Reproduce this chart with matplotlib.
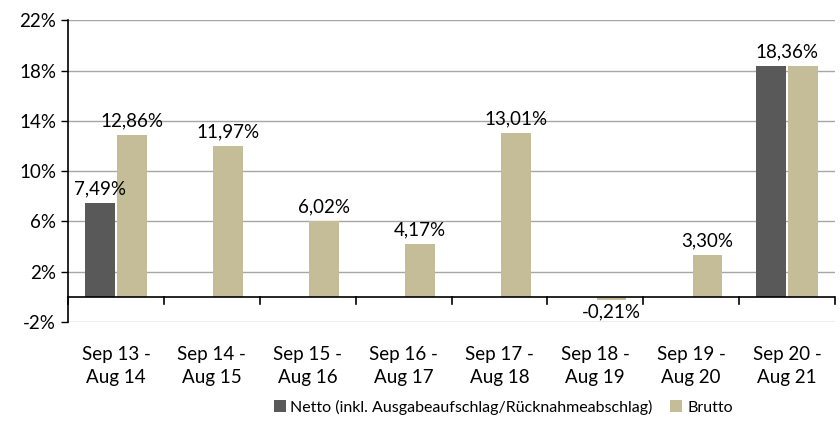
import matplotlib.pyplot as plt
import numpy as np

plt.rcParams['font.family'] = ['Lato', 'DejaVu Sans']

categories = ['Sep 13 -\nAug 14', 'Sep 14 -\nAug 15', 'Sep 15 -\nAug 16', 'Sep 16 -\nAug 17',
              'Sep 17 -\nAug 18', 'Sep 18 -\nAug 19', 'Sep 19 -\nAug 20', 'Sep 20 -\nAug 21']
netto = [7.49, None, None, None, None, None, None, 18.36]
brutto = [12.86, 11.97, 6.02, 4.17, 13.01, -0.21, 3.30, 18.36]
yticks = [-2, 2, 6, 10, 14, 18, 22]

c_netto = '#595959'
c_brutto = '#c4bd97'
fs = 13.5

fig = plt.figure(figsize=(8.4, 4.21), dpi=100)
ax = fig.add_axes([0.081, 0.235, 0.913, 0.717])

x = np.arange(len(categories))
w = 0.31
off = 0.17

nx = [x[i] - off for i in range(len(x)) if netto[i] is not None]
nv = [v for v in netto if v is not None]
ax.bar(nx, nv, w, color=c_netto, zorder=3, label='Netto (inkl. Ausgabeaufschlag/Rücknahmeabschlag)')
ax.bar(x + off, brutto, w, color=c_brutto, zorder=3, label='Brutto')

def fmt(v):
    return ('%.2f' % v).replace('.', ',') + '%'

for i, v in enumerate(brutto):
    if i == len(brutto) - 1:
        ax.text(x[i], v + 0.45, fmt(v), ha='center', va='bottom', fontsize=fs)
    elif v < 0:
        ax.text(x[i] + off, v - 0.3, fmt(v), ha='center', va='top', fontsize=fs)
    else:
        ax.text(x[i] + off, v + 0.45, fmt(v), ha='center', va='bottom', fontsize=fs)
for i, v in enumerate(netto):
    if v is not None and i != len(netto) - 1:
        ax.text(x[i] - off, v + 0.45, fmt(v), ha='center', va='bottom', fontsize=fs)

ax.set_ylim(-2, 22)
ax.set_xlim(-0.5, len(categories) - 0.5)
ax.set_yticks(yticks)
ax.set_yticklabels(['%d%%' % t for t in yticks], fontsize=fs)
ax.yaxis.grid(True, color='#a6a6a6', linewidth=1, zorder=0)
ax.tick_params(axis='y', length=5, width=1, color='black')

for s in ['top', 'right', 'bottom']:
    ax.spines[s].set_visible(False)
ax.spines['left'].set_linewidth(1.2)
ax.axhline(0, color='black', linewidth=1.2, zorder=4)

ax.set_xticks([])
for b in np.arange(-0.5, len(categories)):
    ax.plot([b, b], [0, -0.55], color='black', linewidth=1.2, clip_on=False, zorder=4)
for i, c in enumerate(categories):
    ax.text(x[i], -3.9, c, ha='center', va='top', fontsize=fs, linespacing=1.4)

fig.legend(loc='center', bbox_to_anchor=(0.599, 0.033), ncol=2, frameon=False,
           fontsize=11.5, handlelength=0.75, handleheight=0.75, handletextpad=0.3,
           columnspacing=1.1, borderpad=0)

fig.savefig('out.png', dpi=100)
